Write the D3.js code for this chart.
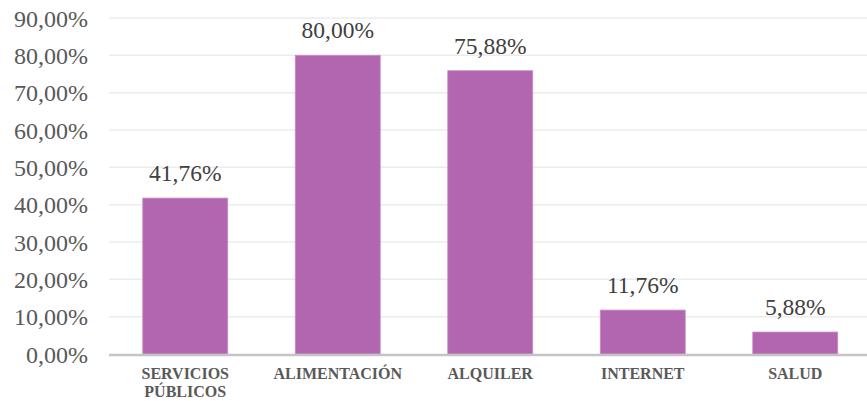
<!DOCTYPE html>
<html><head><meta charset="utf-8">
<script src="https://cdn.jsdelivr.net/npm/d3@7"></script>
<style>html,body{margin:0;padding:0;background:#fff;}</style>
</head><body>
<svg id="chart" width="867" height="401"></svg>
<script>
const categories = [["SERVICIOS","PÚBLICOS"],["ALIMENTACIÓN"],["ALQUILER"],["INTERNET"],["SALUD"]];
const values = [41.76, 80.00, 75.88, 11.76, 5.88];
const yTicks = [0,10,20,30,40,50,60,70,80,90];

const FONT = '"Liberation Serif"';
const svg = d3.select("#chart");
const m = {left:109, right:-4.5, top:18, bottom:47};
const W = 867, H = 401;
const x = d3.scaleBand().domain(d3.range(values.length))
  .range([m.left, W - m.right]).paddingInner(0.443).paddingOuter(0.2215);
const y = d3.scaleLinear().domain([0,90]).range([H - m.bottom, m.top]);
const fmt = v => v.toFixed(2).replace(".", ",") + "%";

// gridlines
svg.append("g").selectAll("line").data(yTicks.filter(t=>t>0)).join("line")
  .attr("x1", m.left).attr("x2", W).attr("y1", d=>y(d)).attr("y2", d=>y(d))
  .attr("stroke", "#ececec").attr("stroke-width", 1.5);

// y axis labels
const yAxis = d3.axisLeft(y).tickValues(yTicks).tickFormat(fmt).tickSize(0).tickPadding(21);
const ya = svg.append("g").attr("transform", `translate(${m.left},0)`).call(yAxis);
ya.select(".domain").remove();
ya.selectAll("text").style("font-family", FONT).style("font-size", "24px")
  .attr("fill", "#595959").attr("dy", "0.34em");

// bars
svg.append("g").selectAll("rect").data(values).join("rect")
  .attr("x", (d,i)=>x(i)).attr("width", x.bandwidth())
  .attr("y", d=>y(d)).attr("height", d=>y(0)-y(d))
  .attr("fill", "#b366b0").attr("stroke", "#c68bc3").attr("stroke-width", 0.8);

// baseline
svg.append("line").attr("x1", m.left).attr("x2", W).attr("y1", y(0)+1).attr("y2", y(0)+1)
  .attr("stroke", "#c4c4c4").attr("stroke-width", 2.5);

// value labels
svg.append("g").selectAll("text").data(values).join("text")
  .attr("x", (d,i)=>x(i)+x.bandwidth()/2).attr("y", d=>y(d)-17)
  .attr("text-anchor", "middle")
  .style("font-family", FONT).style("font-size", "23.5px")
  .attr("fill", "#404040").text(d=>fmt(d));

// category labels (one text element per line)
const lines = [];
categories.forEach((c,i)=>c.forEach((t,j)=>lines.push({i, j, t})));
svg.append("g").selectAll("text").data(lines).join("text")
  .attr("x", d=>x(d.i)+x.bandwidth()/2).attr("y", d=>379 + d.j*18)
  .attr("text-anchor", "middle")
  .style("font-family", FONT).style("font-weight", "bold").style("font-size", "16px")
  .attr("fill", "#595959").text(d=>d.t);
</script>
</body></html>
